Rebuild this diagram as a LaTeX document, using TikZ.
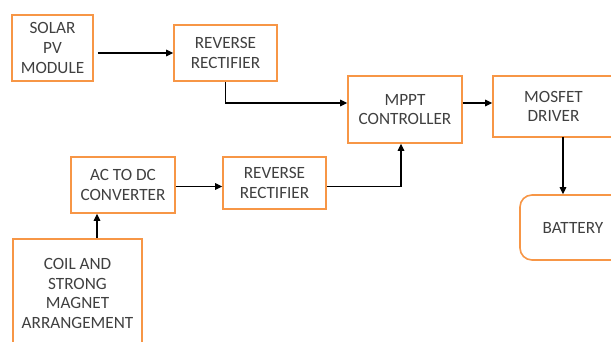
\documentclass[tikz,border=0pt]{standalone}
\usepackage{fontspec}
\setmainfont{Carlito}
\usetikzlibrary{arrows.meta}
\definecolor{boxorange}{HTML}{F79646}
\definecolor{txtgray}{HTML}{404040}
\tikzset{
  blk/.style={draw=boxorange, line width=1.6pt, fill=white, inner sep=0pt, align=center,
    text=txtgray, font=\fontsize{17.2}{19.7}\selectfont},
  rblk/.style={blk, rounded corners=12pt},
  arr/.style={line width=1.1pt, -{Triangle[length=7pt,width=6.5pt]}},
  ln/.style={line width=1.1pt}
}
\begin{document}
\begin{tikzpicture}[x=1pt,y=-1pt]
\useasboundingbox (0,0) rectangle (611,342);
\clip (0,0) rectangle (611,342);
\node[blk, minimum width=81pt, minimum height=66pt] (solar) at (52.5,48) {SOLAR\\PV\\MODULE};
\node[blk, minimum width=103pt, minimum height=56pt] (rr1) at (225.5,53) {REVERSE\\RECTIFIER};
\node[blk, minimum width=114pt, minimum height=67pt] (mppt) at (405,109.5) {MPPT\\CONTROLLER};
\node[blk, minimum width=121pt, minimum height=61pt] (mosfet) at (553.5,106.5) {MOSFET\\DRIVER};
\node[rblk, minimum width=106pt, minimum height=65pt] (battery) at (573,227.5) {BATTERY};
\node[blk, minimum width=103pt, minimum height=52pt] (rr2) at (274.5,183) {REVERSE\\RECTIFIER};
\node[blk, minimum width=104pt, minimum height=56pt] (ac) at (123,185) {AC TO DC\\CONVERTER};
\node[blk, minimum width=129pt, minimum height=109pt] (coil) at (77.5,293.5) {COIL AND\\STRONG\\MAGNET\\ARRANGEMENT};
\coordinate (j1) at (401,186.5);
\coordinate (cb) at (97,239);
\coordinate (mb) at (563,137);
% connectors
\draw[arr] ([xshift=4pt]solar.east |- rr1.west) -- (rr1.west);
\draw[arr] (rr1.south) |- ([yshift=6.5pt]mppt.west);
\draw[arr] ([yshift=6.5pt]mppt.east) -- ([yshift=6.5pt]mppt.east -| mosfet.west);
\draw[arr] (mb) -- (mb |- battery.north);
\draw[arr] (ac.east |- j1) -- (rr2.west |- j1);
\draw[arr] (rr2.east |- j1) -- (j1) -- (j1 |- mppt.south);
\draw[arr] (cb |- coil.north) -- (cb |- ac.south);
\end{tikzpicture}
\end{document}
